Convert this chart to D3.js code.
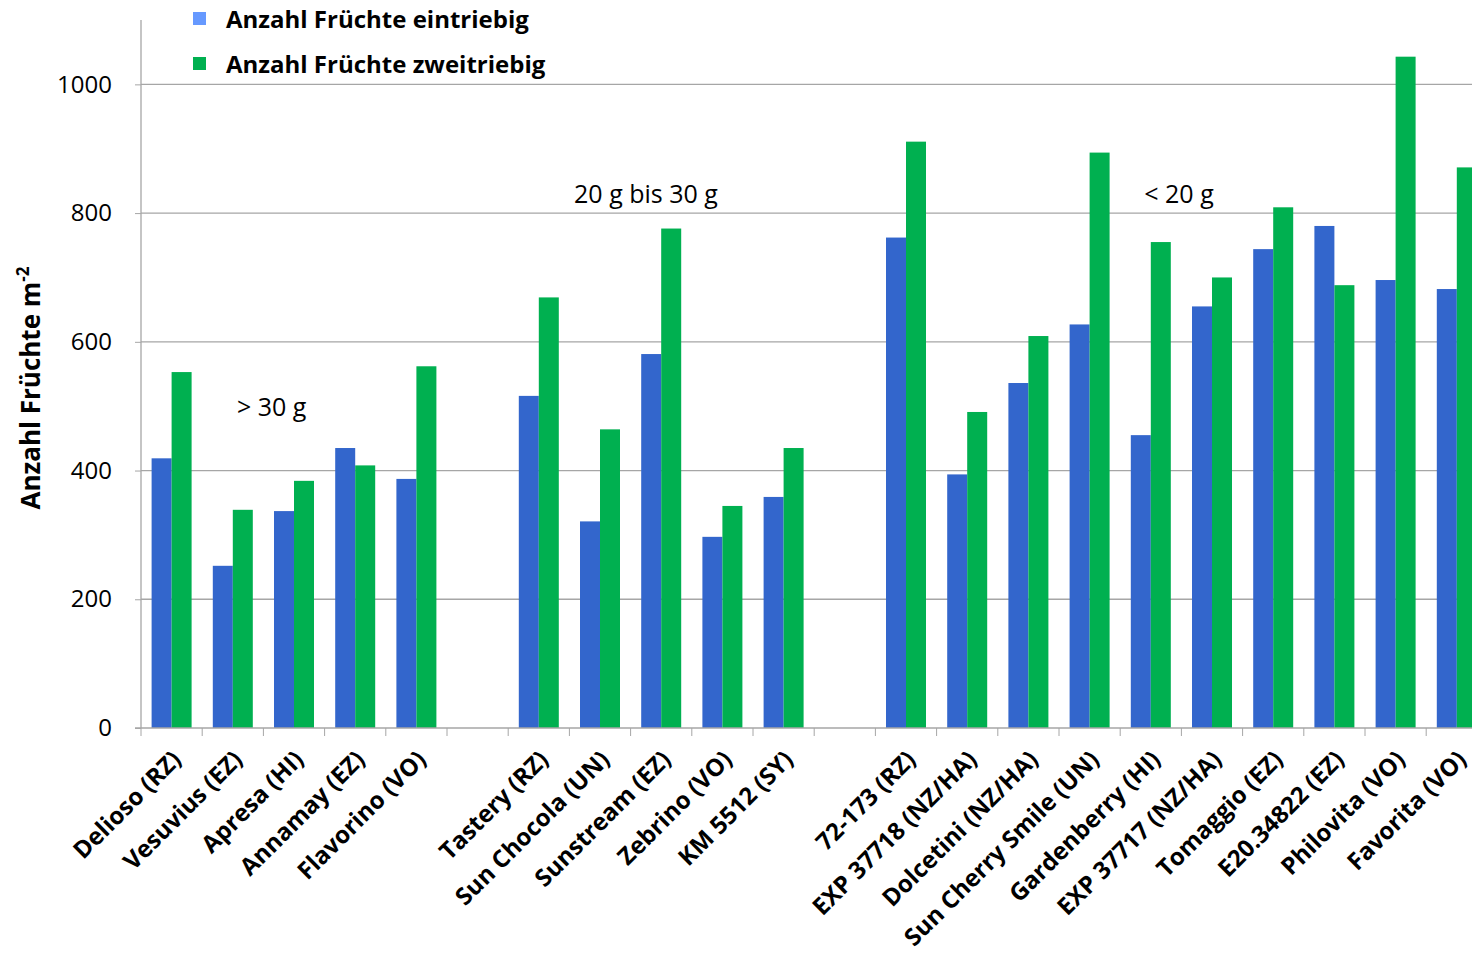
<!DOCTYPE html>
<html>
<head>
<meta charset="utf-8">
<script src="https://cdn.jsdelivr.net/npm/d3@7"></script>
<style>
  body { margin: 0; background: #fff; overflow: hidden; }
  svg { display: block; font-family: "Open Sans", sans-serif; }
</style>
</head>
<body>
<script>
// categories, blank entries are the empty slots between weight groups
let categories = ["Delioso (RZ)", "Vesuvius (EZ)", "Apresa (HI)", "Annamay (EZ)", "Flavorino (VO)", "",
                  "Tastery (RZ)", "Sun Chocola (UN)", "Sunstream (EZ)", "Zebrino (VO)", "KM 5512 (SY)", " ",
                  "72-173 (RZ)", "EXP 37718 (NZ/HA)", "Dolcetini (NZ/HA)", "Sun Cherry Smile (UN)", "Gardenberry (HI)",
                  "EXP 37717 (NZ/HA)", "Tomaggio (EZ)", "E20.34822 (EZ)", "Philovita (VO)", "Favorita (VO)"];
let eintriebig  = [419, 252, 337, 435, 387, null, 516, 321, 581, 297, 359, null,
                   762, 394, 536, 627, 455, 655, 744, 780, 696, 682];
let zweitriebig = [553, 339, 384, 408, 562, null, 669, 464, 776, 345, 435, null,
                   911, 491, 609, 894, 755, 700, 809, 688, 1043, 871];
let seriesNames = ["Anzahl Früchte eintriebig", "Anzahl Früchte zweitriebig"];
let yTicks = [0, 200, 400, 600, 800, 1000];
let groupLabels = ["> 30 g", "20 g bis 30 g", "< 20 g"];

init();

function init() {
  let width = 1472, height = 954,
      margin = {l: 141, t: 20, b: 226};

  let svg = d3.select("body").append("svg")
              .attr("width", width)
              .attr("height", height);

  let x = d3.scaleBand()
            .domain(categories)
            .range([margin.l, margin.l + categories.length * 61.2]);

  let xs = d3.scaleBand()
             .domain(["e", "z"])
             .range([10.6, x.bandwidth() - 10.6]);

  let y = d3.scaleLinear()
            .domain([0, 1100])
            .range([height - margin.b, margin.t]);

  // gridlines
  svg.append("g").selectAll("line")
     .data(yTicks.filter(d => d > 0))
     .join("line")
     .attr("x1", margin.l).attr("x2", width)
     .attr("y1", d => y(d)).attr("y2", d => y(d))
     .attr("stroke", "#a6a6a6").attr("stroke-width", 1.3);

  // bars
  let colors = {e: "#3366cc", z: "#00b050"};
  let rows = [];
  categories.forEach((c, i) => {
    if (eintriebig[i] != null) rows.push({c: c, s: "e", v: eintriebig[i]});
    if (zweitriebig[i] != null) rows.push({c: c, s: "z", v: zweitriebig[i]});
  });
  svg.append("g").selectAll("rect")
     .data(rows)
     .join("rect")
     .attr("x", d => x(d.c) + xs(d.s))
     .attr("width", xs.bandwidth())
     .attr("y", d => y(d.v))
     .attr("height", d => y(0) - y(d.v))
     .attr("fill", d => colors[d.s]);

  // y axis
  let yAxis = svg.append("g")
                 .attr("transform", "translate(" + margin.l + ",0)")
                 .call(d3.axisLeft(y).tickValues(yTicks).tickFormat(d3.format("d")).tickSize(6).tickPadding(23));
  yAxis.select(".domain").attr("d", "M0," + y(0) + "V" + margin.t).attr("stroke", "#a6a6a6").attr("stroke-width", 1.3);
  yAxis.selectAll(".tick line").attr("stroke", "#a6a6a6");
  yAxis.selectAll(".tick text").attr("font-size", 24).attr("fill", "#000")
       .attr("font-family", "'Open Sans', sans-serif");

  // x axis: line plus ticks at slot edges
  let xg = svg.append("g");
  xg.append("line")
    .attr("x1", margin.l - 6).attr("x2", width)
    .attr("y1", y(0)).attr("y2", y(0))
    .attr("stroke", "#a6a6a6").attr("stroke-width", 1.3);
  let edges = categories.map(c => x(c)).concat([x.range()[1]]);
  xg.selectAll(".xt")
    .data(edges)
    .join("line")
    .attr("class", "xt")
    .attr("x1", d => d).attr("x2", d => d)
    .attr("y1", y(0)).attr("y2", y(0) + 8)
    .attr("stroke", "#a6a6a6");
  xg.selectAll(".xl")
    .data(categories.filter(c => c.trim() != ""))
    .join("text")
    .attr("class", "xl")
    .attr("transform", d => "translate(" + (x(d) + x.bandwidth() / 2 + 11) + "," + (y(0) + 33) + ") rotate(-45)")
    .attr("text-anchor", "end")
    .attr("font-size", 24)
    .attr("font-weight", "bold")
    .text(d => d);

  // group notes
  let notePos = [[237, 416, "start"], [646, 203, "middle"], [1179, 203, "middle"]];
  svg.selectAll(".note")
     .data(groupLabels)
     .join("text")
     .attr("class", "note")
     .attr("x", (d, i) => notePos[i][0])
     .attr("y", (d, i) => notePos[i][1])
     .attr("text-anchor", (d, i) => notePos[i][2])
     .attr("font-size", 25)
     .text(d => d);

  // y title
  let title = svg.append("text")
                 .attr("transform", "translate(40,388) rotate(-90)")
                 .attr("text-anchor", "middle")
                 .attr("font-size", 26)
                 .attr("font-weight", "bold");
  title.append("tspan").text("Anzahl Früchte m");
  title.append("tspan").attr("dy", -11).attr("font-size", 17).text("-2");

  // legend
  let legColors = ["#6699ff", "#00b050"];
  let leg = svg.selectAll(".leg")
               .data(seriesNames)
               .join("g")
               .attr("class", "leg")
               .attr("transform", (d, i) => "translate(193," + (12 + i * 45) + ")");
  leg.append("rect").attr("width", 13).attr("height", 13).attr("fill", (d, i) => legColors[i]);
  leg.append("text")
     .attr("x", 33).attr("y", 16)
     .attr("font-size", 24)
     .attr("font-weight", "bold")
     .text(d => d);
}
</script>
</body>
</html>
